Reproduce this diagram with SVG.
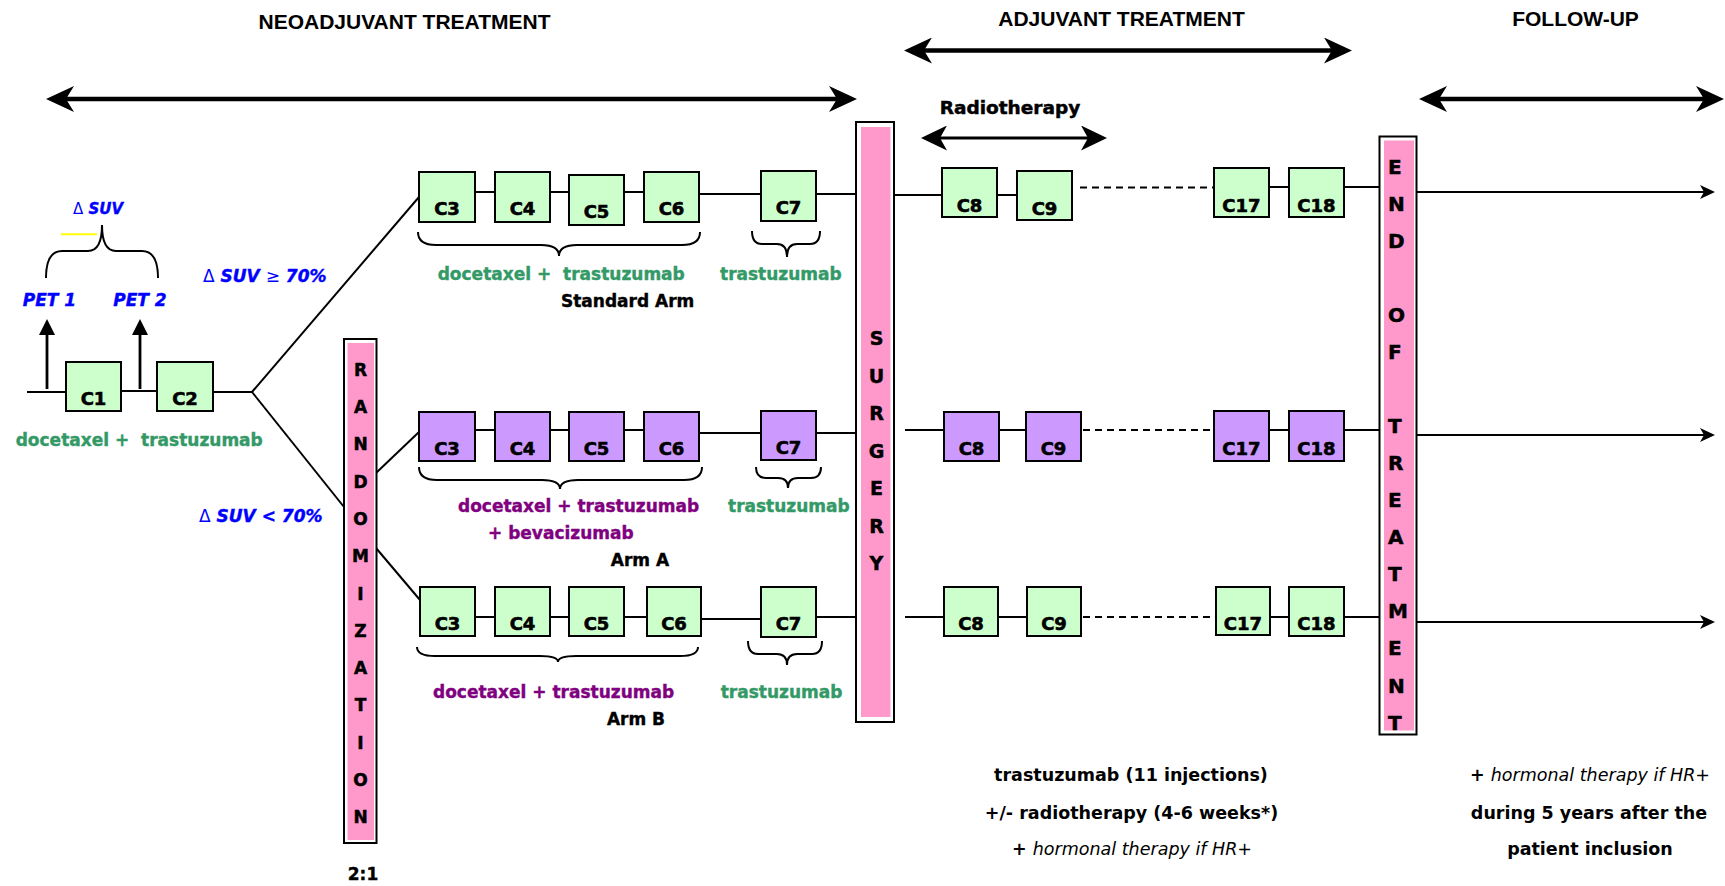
<svg xmlns="http://www.w3.org/2000/svg" width="1725" height="886" viewBox="0 0 1725 886">
<defs>
<style>
.g rect{fill:#CCFFCC;stroke:#000;stroke-width:2}
.p rect{fill:#CC99FF;stroke:#000;stroke-width:2}
.c{font-family:"DejaVu Sans",sans-serif;font-weight:bold;font-size:18px;text-anchor:middle;fill:#000;stroke:#000;stroke-width:0.6}
.ln{stroke:#000;stroke-width:2;fill:none}
.dash{stroke-dasharray:7 5}
.t{font-family:"DejaVu Sans",sans-serif;font-weight:bold;font-size:17px;fill:#000;stroke:#000;stroke-width:0.4}
.b{font-family:"DejaVu Sans",sans-serif;font-weight:bold;font-size:17.5px;fill:#000;text-anchor:middle}
.it{font-weight:normal;font-style:italic}
.grn{fill:#339966;stroke:#339966}
.pur{fill:#800080;stroke:#800080}
.blu{fill:#0000FF;stroke:#0000FF;font-style:italic}
.dl{font-style:normal;font-weight:normal;stroke-width:0}
.hdr{font-family:"Liberation Sans",Arial,sans-serif;font-weight:bold;font-size:21px;text-anchor:middle;fill:#000}
.bar .o{fill:#fff;stroke:#000;stroke-width:2}
.bar .i{fill:#FF99CC}
.vl{font-family:"DejaVu Sans",sans-serif;font-weight:bold;fill:#000;stroke:#000;stroke-width:0.5}
.big{stroke:#000;stroke-width:4.5;fill:none}
</style>
<marker id="bigHead" viewBox="0 0 28 26" refX="8" refY="13" markerWidth="28" markerHeight="26" markerUnits="userSpaceOnUse" orient="auto-start-reverse">
<path d="M0,0 L28,13 L0,26 L8,13 Z" fill="#000"/>
</marker>
<marker id="midHead" viewBox="0 0 26 25" refX="7" refY="12.5" markerWidth="26" markerHeight="25" markerUnits="userSpaceOnUse" orient="auto-start-reverse">
<path d="M0,0 L26,12.5 L0,25 L7,12.5 Z" fill="#000"/>
</marker>
<marker id="smallHead" viewBox="0 0 15 14" refX="4" refY="7" markerWidth="15" markerHeight="14" markerUnits="userSpaceOnUse" orient="auto">
<path d="M0,0 L15,7 L0,14 L4,7 Z" fill="#000"/>
</marker>
<marker id="triHead" viewBox="0 0 16 16" refX="1" refY="8" markerWidth="16" markerHeight="16" markerUnits="userSpaceOnUse" orient="auto">
<path d="M0,0 L16,8 L0,16 Z" fill="#000"/>
</marker>
</defs>
<rect width="1725" height="886" fill="#fff"/>

<!-- Headers and timeline arrows -->
<g id="headers">
<text class="hdr" x="404.5" y="29">NEOADJUVANT TREATMENT</text>
<text class="hdr" x="1121.5" y="26">ADJUVANT TREATMENT</text>
<text class="hdr" x="1575.5" y="26">FOLLOW-UP</text>
<text class="vl" x="1010" y="114" font-size="18.5" text-anchor="middle">Radiotherapy</text>
</g>
<g id="timeline-arrows">
<line class="big" x1="66" y1="99" x2="837" y2="99" marker-start="url(#bigHead)" marker-end="url(#bigHead)"/>
<line class="big" x1="924" y1="50.5" x2="1332" y2="50.5" marker-start="url(#bigHead)" marker-end="url(#bigHead)"/>
<line class="big" x1="1439" y1="99" x2="1704" y2="99" marker-start="url(#bigHead)" marker-end="url(#bigHead)"/>
<line x1="940" y1="138" x2="1088" y2="138" stroke="#000" stroke-width="3" marker-start="url(#midHead)" marker-end="url(#midHead)"/>
</g>

<!-- Connectors -->
<g id="connectors">
<line class="ln" x1="27" y1="392" x2="66" y2="392"/>
<line class="ln" x1="121" y1="391" x2="157" y2="391"/>
<line class="ln" x1="213" y1="392" x2="252" y2="392"/>
<line class="ln" x1="252" y1="392" x2="419" y2="197"/>
<line class="ln" x1="252" y1="392" x2="344" y2="507"/>
<line class="ln" x1="376" y1="473" x2="419" y2="432"/>
<line class="ln" x1="376" y1="548" x2="420" y2="600"/>
<line x1="47" y1="389" x2="47" y2="334" stroke="#000" stroke-width="2.8" marker-end="url(#triHead)"/>
<line x1="140" y1="389" x2="140" y2="334" stroke="#000" stroke-width="2.8" marker-end="url(#triHead)"/>
<!-- standard arm -->
<line class="ln" x1="475" y1="192" x2="495" y2="192"/>
<line class="ln" x1="550" y1="192" x2="569" y2="192"/>
<line class="ln" x1="624" y1="192" x2="644" y2="192"/>
<line class="ln" x1="697" y1="194" x2="761" y2="194"/>
<line class="ln" x1="809" y1="194" x2="857" y2="194"/>
<!-- arm A -->
<line class="ln" x1="475" y1="430" x2="495" y2="430"/>
<line class="ln" x1="550" y1="430" x2="569" y2="430"/>
<line class="ln" x1="624" y1="430" x2="644" y2="430"/>
<line class="ln" x1="697" y1="433" x2="761" y2="433"/>
<line class="ln" x1="816" y1="433" x2="857" y2="433"/>
<!-- arm B -->
<line class="ln" x1="475" y1="617" x2="495" y2="617"/>
<line class="ln" x1="550" y1="617" x2="569" y2="617"/>
<line class="ln" x1="624" y1="617" x2="647" y2="617"/>
<line class="ln" x1="697" y1="619" x2="761" y2="619"/>
<line class="ln" x1="809" y1="617" x2="857" y2="617"/>
<!-- adjuvant top -->
<line class="ln" x1="888" y1="195" x2="942" y2="195"/>
<line class="ln" x1="997" y1="195" x2="1017" y2="195"/>
<line class="ln dash" x1="1080" y1="187.5" x2="1214" y2="187.5"/>
<line class="ln" x1="1269" y1="187" x2="1289" y2="187"/>
<line class="ln" x1="1344" y1="187" x2="1385" y2="187"/>
<!-- adjuvant middle -->
<line class="ln" x1="905" y1="430" x2="944" y2="430"/>
<line class="ln" x1="999" y1="430" x2="1026" y2="430"/>
<line class="ln dash" x1="1083" y1="430" x2="1214" y2="430"/>
<line class="ln" x1="1269" y1="430" x2="1289" y2="430"/>
<line class="ln" x1="1344" y1="430" x2="1385" y2="430"/>
<!-- adjuvant bottom -->
<line class="ln" x1="905" y1="617" x2="944" y2="617"/>
<line class="ln" x1="998" y1="617" x2="1027" y2="617"/>
<line class="ln dash" x1="1083" y1="617" x2="1216" y2="617"/>
<line class="ln" x1="1270" y1="617" x2="1289" y2="617"/>
<line class="ln" x1="1344" y1="617" x2="1385" y2="617"/>
<!-- follow-up arrows -->
<line class="ln" x1="1417" y1="192" x2="1704" y2="192" marker-end="url(#smallHead)"/>
<line class="ln" x1="1417" y1="435" x2="1704" y2="435" marker-end="url(#smallHead)"/>
<line class="ln" x1="1417" y1="622" x2="1704" y2="622" marker-end="url(#smallHead)"/>
</g>

<!-- Braces -->
<g id="braces" fill="none" stroke="#000" stroke-width="2">
<path d="M46,278 Q46,251 62,251 L88,251 Q102,251 102,225 Q102,251 116,251 L142,251 Q158,251 158,278"/>
<path d="M418,232 Q418,245 436,245 L541,245 Q559,245 559,256 Q559,245 577,245 L682,245 Q700,245 700,232"/>
<path d="M752,231 Q752,244 762,244 L777,244 Q787,244 787,257 Q787,244 797,244 L810,244 Q820,244 820,231"/>
<path d="M419,467 Q419,480 437,480 L542,480 Q560,480 560,489 Q560,480 578,480 L684,480 Q702,480 702,467"/>
<path d="M756,467 Q756,478 766,478 L778,478 Q788,478 788,488 Q788,478 798,478 L811,478 Q821,478 821,467"/>
<path d="M417,647 Q417,656 435,656 L540,656 Q558,656 558,662 Q558,656 576,656 L680,656 Q698,656 698,647"/>
<path d="M748,641 Q748,654 758,654 L777,654 Q787,654 787,665 Q787,654 797,654 L812,654 Q822,654 822,641"/>
</g>
<line id="yellow-mark" x1="61" y1="234.3" x2="97" y2="234.3" stroke="#FFFF00" stroke-width="2"/>

<!-- Cycle nodes: induction -->
<g id="C1" class="g"><rect x="66" y="362" width="55" height="49"/><text class="c" x="93.5" y="405">C1</text></g>
<g id="C2" class="g"><rect x="157" y="362" width="56" height="49"/><text class="c" x="185" y="405">C2</text></g>

<!-- Standard arm -->
<g id="std-C3" class="g"><rect x="419" y="172" width="56" height="50"/><text class="c" x="447" y="215">C3</text></g>
<g id="std-C4" class="g"><rect x="495" y="172" width="55" height="50"/><text class="c" x="522.5" y="215">C4</text></g>
<g id="std-C5" class="g"><rect x="569" y="175" width="55" height="50"/><text class="c" x="596.5" y="218">C5</text></g>
<g id="std-C6" class="g"><rect x="644" y="172" width="55" height="50"/><text class="c" x="671.5" y="215">C6</text></g>
<g id="std-C7" class="g"><rect x="761" y="171" width="55" height="50"/><text class="c" x="788.5" y="214">C7</text></g>

<!-- Arm A -->
<g id="A-C3" class="p"><rect x="419" y="412" width="56" height="49"/><text class="c" x="447" y="454.5">C3</text></g>
<g id="A-C4" class="p"><rect x="495" y="412" width="55" height="49"/><text class="c" x="522.5" y="454.5">C4</text></g>
<g id="A-C5" class="p"><rect x="569" y="412" width="55" height="49"/><text class="c" x="596.5" y="454.5">C5</text></g>
<g id="A-C6" class="p"><rect x="644" y="412" width="55" height="49"/><text class="c" x="671.5" y="454.5">C6</text></g>
<g id="A-C7" class="p"><rect x="761" y="411" width="55" height="49"/><text class="c" x="788.5" y="453.5">C7</text></g>

<!-- Arm B -->
<g id="B-C3" class="g"><rect x="420" y="587" width="55" height="49"/><text class="c" x="447.5" y="629.5">C3</text></g>
<g id="B-C4" class="g"><rect x="495" y="587" width="55" height="49"/><text class="c" x="522.5" y="629.5">C4</text></g>
<g id="B-C5" class="g"><rect x="569" y="587" width="55" height="49"/><text class="c" x="596.5" y="629.5">C5</text></g>
<g id="B-C6" class="g"><rect x="647" y="587" width="54" height="49"/><text class="c" x="674" y="629.5">C6</text></g>
<g id="B-C7" class="g"><rect x="761" y="587" width="55" height="50"/><text class="c" x="788.5" y="630">C7</text></g>

<!-- Adjuvant top -->
<g id="top-C8" class="g"><rect x="942" y="168" width="55" height="49"/><text class="c" x="969.5" y="211.5">C8</text></g>
<g id="top-C9" class="g"><rect x="1017" y="171" width="55" height="49"/><text class="c" x="1044.5" y="214.5">C9</text></g>
<g id="top-C17" class="g"><rect x="1214" y="168" width="55" height="49"/><text class="c" x="1241.5" y="211.5">C17</text></g>
<g id="top-C18" class="g"><rect x="1289" y="168" width="55" height="49"/><text class="c" x="1316.5" y="211.5">C18</text></g>

<!-- Adjuvant middle -->
<g id="mid-C8" class="p"><rect x="944" y="412" width="55" height="49"/><text class="c" x="971.5" y="454.5">C8</text></g>
<g id="mid-C9" class="p"><rect x="1026" y="412" width="55" height="49"/><text class="c" x="1053.5" y="454.5">C9</text></g>
<g id="mid-C17" class="p"><rect x="1214" y="411" width="55" height="50"/><text class="c" x="1241.5" y="454.5">C17</text></g>
<g id="mid-C18" class="p"><rect x="1289" y="411" width="55" height="50"/><text class="c" x="1316.5" y="454.5">C18</text></g>

<!-- Adjuvant bottom -->
<g id="bot-C8" class="g"><rect x="944" y="587" width="54" height="49"/><text class="c" x="971" y="630">C8</text></g>
<g id="bot-C9" class="g"><rect x="1027" y="587" width="54" height="49"/><text class="c" x="1054" y="630">C9</text></g>
<g id="bot-C17" class="g"><rect x="1216" y="587" width="54" height="48"/><text class="c" x="1243" y="629.5">C17</text></g>
<g id="bot-C18" class="g"><rect x="1289" y="587" width="55" height="49"/><text class="c" x="1316.5" y="630">C18</text></g>

<!-- Randomization bar -->
<g id="randomization" class="bar">
<rect class="o" x="344" y="339" width="32.5" height="504"/>
<rect class="i" x="347.5" y="343" width="26.5" height="497"/>
<g class="vl" font-size="17" text-anchor="middle">
<text x="360.5" y="375.7">R</text>
<text x="360.5" y="413">A</text>
<text x="360.5" y="450.3">N</text>
<text x="360.5" y="487.6">D</text>
<text x="360.5" y="524.9">O</text>
<text x="360.5" y="562.2">M</text>
<text x="360.5" y="599.5">I</text>
<text x="360.5" y="636.8">Z</text>
<text x="360.5" y="674.1">A</text>
<text x="360.5" y="711.4">T</text>
<text x="360.5" y="748.7">I</text>
<text x="360.5" y="786">O</text>
<text x="360.5" y="823.3">N</text>
</g>
</g>
<text id="ratio" class="t" x="363" y="880" text-anchor="middle">2:1</text>

<!-- Surgery bar -->
<g id="surgery" class="bar">
<rect class="o" x="856" y="122" width="38" height="600"/>
<rect class="i" x="861" y="127" width="29.5" height="590"/>
<g class="vl" font-size="19" text-anchor="middle">
<text x="876.5" y="345">S</text>
<text x="876.5" y="382.5">U</text>
<text x="876.5" y="420">R</text>
<text x="876.5" y="457.5">G</text>
<text x="876.5" y="495">E</text>
<text x="876.5" y="532.5">R</text>
<text x="876.5" y="570">Y</text>
</g>
</g>

<!-- End of treatment bar -->
<g id="end-of-treatment" class="bar">
<rect class="o" x="1379.5" y="136.5" width="37" height="598"/>
<rect class="i" x="1384" y="140.5" width="30" height="590"/>
<g class="vl" font-size="20">
<text x="1388" y="173.5">E</text>
<text x="1388" y="210.6">N</text>
<text x="1388" y="247.6">D</text>
<text x="1388" y="321.8">O</text>
<text x="1388" y="358.9">F</text>
<text x="1388" y="433">T</text>
<text x="1388" y="470">R</text>
<text x="1388" y="507.1">E</text>
<text x="1388" y="544.2">A</text>
<text x="1388" y="581.3">T</text>
<text x="1388" y="618.3">M</text>
<text x="1388" y="655.4">E</text>
<text x="1388" y="692.5">N</text>
<text x="1388" y="729.5">T</text>
</g>
</g>

<!-- Labels -->
<g id="pet-labels" class="t blu">
<text x="98" y="214" font-size="15" text-anchor="middle"><tspan class="dl">Δ</tspan> SUV</text>
<text x="49.5" y="306" text-anchor="middle">PET 1</text>
<text x="140" y="306" text-anchor="middle">PET 2</text>
<text x="203" y="282"><tspan class="dl">Δ</tspan> SUV <tspan class="dl">≥</tspan> 70%</text>
<text x="199" y="521.5"><tspan class="dl">Δ</tspan> SUV &lt; 70%</text>
</g>
<g id="treatment-labels" class="t">
<text class="grn" x="15.7" y="445.7" xml:space="preserve">docetaxel +  trastuzumab</text>
<text class="grn" x="437.7" y="280" xml:space="preserve">docetaxel +  trastuzumab</text>
<text class="grn" x="720" y="280">trastuzumab</text>
<text x="561" y="306.7">Standard Arm</text>
<text class="pur" x="458" y="512">docetaxel + trastuzumab</text>
<text class="pur" x="488" y="539">+ bevacizumab</text>
<text class="grn" x="728" y="512">trastuzumab</text>
<text x="640" y="566" text-anchor="middle">Arm A</text>
<text class="pur" x="433" y="698">docetaxel + trastuzumab</text>
<text class="grn" x="720.7" y="698">trastuzumab</text>
<text x="636" y="725" text-anchor="middle">Arm B</text>
</g>
<g id="notes">
<text class="b" x="1131" y="781">trastuzumab (11 injections)</text>
<text class="b" x="1131.5" y="819">+/- radiotherapy (4-6 weeks*)</text>
<text class="b" x="1132" y="855">+ <tspan class="it">hormonal therapy if HR+</tspan></text>
<text class="b" x="1590" y="781">+ <tspan class="it">hormonal therapy if HR+</tspan></text>
<text class="b" x="1589" y="819">during 5 years after the</text>
<text class="b" x="1590" y="855">patient inclusion</text>
</g>
</svg>
